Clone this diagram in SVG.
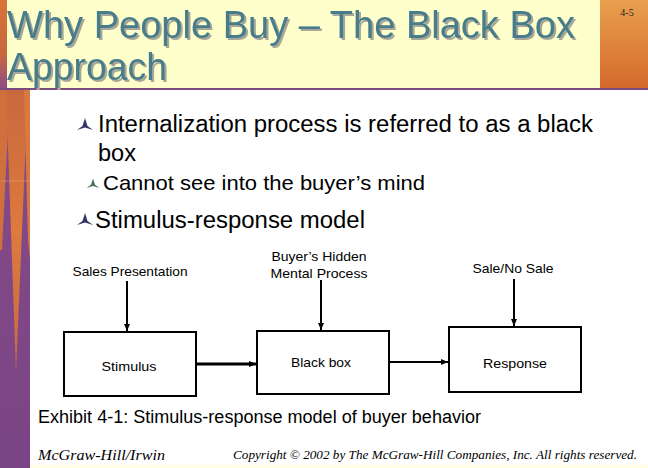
<svg xmlns="http://www.w3.org/2000/svg" width="648" height="468" viewBox="0 0 648 468">
<defs>
<style>
.sans{font-family:"Liberation Sans",Arial,sans-serif}
.serif{font-family:"Liberation Serif","Times New Roman",serif;font-style:italic}
.title{font-size:39px;fill:#467B8B}
.b1{font-size:23px;fill:#000}
.b2{font-size:21px;fill:#000}
.lbl{font-size:13px;fill:#000}
.box{fill:#fff;stroke:#000;stroke-width:2}
.conn{stroke:#000;fill:none}
</style>
<filter id="sh" x="-5%" y="-20%" width="110%" height="140%">
<feDropShadow dx="2" dy="2" stdDeviation="0.3" flood-color="#A8A898" flood-opacity="1"/>
</filter>
<linearGradient id="corner" x1="0" y1="0" x2="0" y2="1">
<stop offset="0" stop-color="#E9A04E"/>
<stop offset="1" stop-color="#D4692C"/>
</linearGradient>
<linearGradient id="strip" x1="0" y1="0" x2="0" y2="1">
<stop offset="0" stop-color="#8A4B88"/>
<stop offset="1" stop-color="#7A4585"/>
</linearGradient>
<linearGradient id="spike" x1="0" y1="0" x2="0" y2="1">
<stop offset="0" stop-color="#C8683E"/>
<stop offset="0.5" stop-color="#DE7A3C"/>
<stop offset="1" stop-color="#C56A48"/>
</linearGradient>
<linearGradient id="topleft" x1="0" y1="0" x2="0" y2="1">
<stop offset="0" stop-color="#D8743A"/>
<stop offset="0.6" stop-color="#C8683E"/>
<stop offset="1" stop-color="#8A4B88"/>
</linearGradient>
<marker id="ah" markerWidth="8" markerHeight="8" refX="7" refY="4" orient="auto" markerUnits="userSpaceOnUse">
<path d="M0,1 L7,4 L0,7 Z" fill="#000"/>
</marker>
<path id="bul" d="M0,-12 L2.5,-4 L8,0 L0,-2.5 L-8,0 L-2.5,-4 Z"/>
</defs>

<rect width="648" height="468" fill="#fff"/>

<!-- left decorative strip -->
<rect x="0" y="0" width="30" height="468" fill="url(#strip)"/>
<rect x="0" y="0" width="7" height="90" fill="url(#topleft)"/>
<polygon points="0,90 10,90 2,250 0,250" fill="#D0703C"/>
<polygon points="6,90 28,90 16,372" fill="url(#spike)"/>
<polygon points="24,90 30,90 30,260 28,240" fill="#D87A40"/>
<line x1="0" y1="181" x2="30" y2="181" stroke="#E0A080" stroke-width="0.6"/>

<!-- title band -->
<rect x="7" y="0" width="593" height="88" fill="#FFFFCC"/>
<rect x="600" y="0" width="48" height="88" fill="url(#corner)"/>
<rect x="0" y="88" width="648" height="2" fill="#7B4A7E"/>
<text x="627" y="16" font-family="'Liberation Serif',serif" font-size="10" fill="#222" text-anchor="middle">4-5</text>

<g id="title" filter="url(#sh)">
<text x="7" y="38" class="sans title" textLength="568" lengthAdjust="spacingAndGlyphs">Why People Buy – The Black Box</text>
<text x="7" y="80" class="sans title" textLength="160" lengthAdjust="spacingAndGlyphs">Approach</text>
</g>

<!-- bullets -->
<g id="bullets">
<use href="#bul" x="85" y="130" fill="#333366"/>
<text x="98" y="132" class="sans b1" textLength="495" lengthAdjust="spacingAndGlyphs">Internalization process is referred to as a black</text>
<text x="98" y="161" class="sans b1" textLength="38" lengthAdjust="spacingAndGlyphs">box</text>
<use href="#bul" x="0" y="0" fill="#4F6F55" transform="translate(93,188) scale(0.8)"/>
<text x="103" y="190" class="sans b2" textLength="322" lengthAdjust="spacingAndGlyphs">Cannot see into the buyer’s mind</text>
<use href="#bul" x="85" y="225" fill="#333366"/>
<text x="95" y="228" class="sans b1" textLength="270" lengthAdjust="spacingAndGlyphs">Stimulus-response model</text>
</g>

<!-- input labels -->
<g id="lbl-sales">
<text x="130" y="276" class="sans lbl" text-anchor="middle" textLength="115" lengthAdjust="spacingAndGlyphs">Sales Presentation</text>
</g>
<g id="lbl-hidden">
<text x="319" y="261" class="sans lbl" text-anchor="middle" textLength="95" lengthAdjust="spacingAndGlyphs">Buyer’s Hidden</text>
<text x="319" y="278" class="sans lbl" text-anchor="middle" textLength="97" lengthAdjust="spacingAndGlyphs">Mental Process</text>
</g>
<g id="lbl-sale">
<text x="513" y="273" class="sans lbl" text-anchor="middle" textLength="81" lengthAdjust="spacingAndGlyphs">Sale/No Sale</text>
</g>

<!-- nodes -->
<g id="stimulus">
<rect x="64" y="332" width="132" height="64" class="box"/>
<text x="129" y="371" class="sans lbl" text-anchor="middle" textLength="55" lengthAdjust="spacingAndGlyphs">Stimulus</text>
</g>
<g id="blackbox">
<rect x="257" y="331" width="132" height="63" class="box"/>
<text x="321" y="367" class="sans lbl" text-anchor="middle" textLength="60" lengthAdjust="spacingAndGlyphs">Black box</text>
</g>
<g id="response">
<rect x="449" y="327" width="132" height="65" class="box"/>
<text x="515" y="368" class="sans lbl" text-anchor="middle" textLength="64" lengthAdjust="spacingAndGlyphs">Response</text>
</g>

<!-- connectors -->
<g id="connectors">
<line x1="127" y1="281" x2="127" y2="331" class="conn" stroke-width="2" marker-end="url(#ah)"/>
<line x1="321" y1="280" x2="321" y2="330" class="conn" stroke-width="2" marker-end="url(#ah)"/>
<line x1="514" y1="279" x2="514" y2="326" class="conn" stroke-width="2" marker-end="url(#ah)"/>
<line x1="197" y1="364" x2="256" y2="364" class="conn" stroke-width="3" marker-end="url(#ah)"/>
<line x1="390" y1="362" x2="448" y2="362" class="conn" stroke-width="2" marker-end="url(#ah)"/>
</g>

<text x="38" y="423" class="sans" font-size="18" fill="#000" textLength="443" lengthAdjust="spacingAndGlyphs">Exhibit 4-1: Stimulus-response model of buyer behavior</text>

<!-- footer -->
<text x="38" y="460" class="serif" font-size="14" fill="#000" textLength="127" lengthAdjust="spacingAndGlyphs">McGraw-Hill/Irwin</text>
<text x="233" y="459" class="serif" font-size="13" fill="#000" textLength="404" lengthAdjust="spacingAndGlyphs">Copyright © 2002 by The McGraw-Hill Companies, Inc.  All rights reserved.</text>
<rect x="30" y="465" width="618" height="3" fill="#FFFFE0"/>
</svg>
